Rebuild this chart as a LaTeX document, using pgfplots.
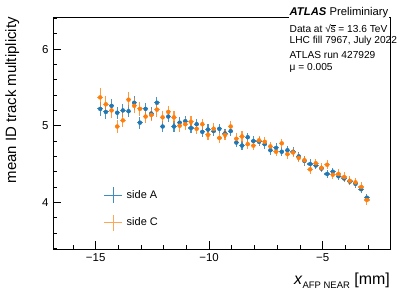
\documentclass[border=0pt]{standalone}
\usepackage{pgfplots}
\pgfplotsset{compat=1.18}
\usepackage{pgfplotstable}
\usepackage{fontspec}
\setmainfont{Liberation Sans}
\definecolor{cA}{RGB}{31,119,180}
\definecolor{cC}{RGB}{255,127,14}
\pgfplotstableread{
x ex a ea c ec
-14.80 0.12 5.22 0.09 5.37 0.12
-14.55 0.12 5.18 0.09 5.28 0.11
-14.30 0.12 5.26 0.09 5.20 0.10
-14.05 0.12 5.17 0.08 4.99 0.09
-13.80 0.12 5.20 0.09 5.07 0.09
-13.55 0.12 5.19 0.08 5.34 0.10
-13.30 0.12 5.30 0.09 5.26 0.10
-13.05 0.12 5.04 0.08 5.22 0.09
-12.80 0.12 5.22 0.08 5.12 0.09
-12.55 0.12 5.16 0.08 5.14 0.08
-12.30 0.12 5.30 0.08 5.21 0.09
-12.05 0.12 4.99 0.07 5.11 0.08
-11.80 0.12 5.12 0.07 5.18 0.08
-11.55 0.12 4.99 0.07 5.11 0.08
-11.30 0.12 5.04 0.07 5.00 0.08
-11.05 0.12 5.06 0.07 5.02 0.08
-10.80 0.12 4.97 0.07 5.05 0.08
-10.55 0.12 5.02 0.07 4.96 0.07
-10.30 0.12 4.92 0.07 5.02 0.07
-10.05 0.12 4.95 0.07 4.88 0.07
-9.80 0.12 4.93 0.06 4.96 0.07
-9.55 0.12 4.96 0.06 4.84 0.07
-9.30 0.12 4.90 0.06 4.88 0.07
-9.05 0.12 4.93 0.06 4.99 0.07
-8.80 0.12 4.78 0.06 4.83 0.07
-8.55 0.12 4.74 0.06 4.86 0.07
-8.30 0.12 4.85 0.06 4.76 0.06
-8.05 0.12 4.80 0.06 4.74 0.06
-7.80 0.12 4.79 0.06 4.81 0.06
-7.55 0.12 4.76 0.06 4.79 0.06
-7.30 0.12 4.68 0.06 4.73 0.06
-7.05 0.12 4.71 0.06 4.66 0.06
-6.80 0.12 4.66 0.06 4.77 0.06
-6.55 0.12 4.68 0.06 4.63 0.06
-6.30 0.12 4.66 0.06 4.65 0.06
-6.05 0.12 4.60 0.06 4.58 0.06
-5.80 0.12 4.54 0.06 4.55 0.06
-5.55 0.12 4.50 0.06 4.43 0.06
-5.30 0.12 4.48 0.05 4.51 0.06
-5.05 0.12 4.44 0.05 4.45 0.06
-4.80 0.12 4.37 0.05 4.49 0.06
-4.55 0.12 4.40 0.05 4.36 0.06
-4.30 0.12 4.34 0.05 4.37 0.06
-4.05 0.12 4.31 0.05 4.33 0.06
-3.80 0.12 4.27 0.05 4.28 0.06
-3.55 0.12 4.24 0.05 4.26 0.06
-3.30 0.12 4.17 0.05 4.20 0.06
-3.05 0.12 4.06 0.05 4.03 0.06
}\data
\begin{document}
\begin{tikzpicture}
\path[use as bounding box] (0,0) rectangle (407bp,294bp);
\begin{axis}[
  at={(53bp,45bp)}, anchor=south west,
  scale only axis, width=337bp, height=232bp,
  xmin=-16.88, xmax=-2.03, ymin=3.39, ymax=6.42,
  xtick={-15,-10,-5}, xticklabels={−15,−10,−5},
  ytick={4,5,6}, yticklabels={4,5,6},
  minor xtick={-16,-14,-13,-12,-11,-9,-8,-7,-6,-4,-3},
  minor ytick={3.4,3.6,3.8,4.2,4.4,4.6,4.8,5.2,5.4,5.6,5.8,6.2,6.4},
  xtick pos=lower, ytick pos=left,
  tick align=inside,
  major tick length=7.5bp, minor tick length=4bp,
  every tick/.style={black, line width=0.8bp},
  axis line style={black, line width=0.9bp},
  tick label style={font=\fontsize{11.5}{13}\selectfont},
  xticklabel style={yshift=-1bp},
  yticklabel style={xshift=-1bp},
  xlabel={\fontsize{16}{18}\selectfont\textit{x}\raisebox{-0.45ex}{\fontsize{9.5}{10}\selectfont AFP NEAR} [mm]},
  xlabel style={at={(rel axis cs:1,0)}, anchor=north east, yshift=-24bp, inner sep=0pt},
  legend style={at={(rel axis cs:0.15,0.27)}, anchor=north west, draw=none, fill=none,
    font=\fontsize{11}{13}\selectfont, row sep=10.5bp, inner sep=0pt,
    nodes={inner sep=1bp}},
  legend cell align=left,
]
\addplot[only marks, mark=none, cA, forget plot,
  error bars/.cd, x dir=both, x explicit, y dir=both, y explicit, error mark=none,
  error bar style={line width=1.1bp, opacity=0.8}]
  table[x=x, y=a, x error=ex, y error=ea] {\data};
\addplot[only marks, mark=none, cC, forget plot,
  error bars/.cd, x dir=both, x explicit, y dir=both, y explicit, error mark=none,
  error bar style={line width=1.1bp, opacity=0.8}]
  table[x=x, y=c, x error=ex, y error=ec] {\data};
\addlegendimage{legend image code/.code={\draw[draw=cA, line width=1bp, opacity=0.85] (0,0)--(18bp,0) (9bp,-8bp)--(9bp,8bp);}}
\addlegendentry{\hspace{3bp}side A}
\addlegendimage{legend image code/.code={\draw[draw=cC, line width=1bp, opacity=0.7] (0,0)--(18bp,0) (9bp,-8bp)--(9bp,8bp);}}
\addlegendentry{\hspace{3bp}side C}
\end{axis}
\node[rotate=90, anchor=north east, inner sep=0pt, font=\fontsize{15}{17}\selectfont] at (5bp,277bp) {mean ID track multiplicity};
\fill[white] (289bp,272bp) rectangle (389.3bp,280bp);
\node[anchor=west, inner sep=0pt, font=\fontsize{11.3}{13}\selectfont] at (289.5bp,281bp) {\textbf{\textit{ATLAS}} Preliminiary};
\node[anchor=west, inner sep=0pt, font=\fontsize{10.2}{12}\selectfont] at (289.5bp,265.5bp) {Data at √\kern-0.3pt$\overline{\mbox{s}}$ = 13.6 TeV};
\node[anchor=west, inner sep=0pt, font=\fontsize{10.2}{12}\selectfont] at (289.5bp,253bp) {LHC fill 7967, July 2022};
\node[anchor=west, inner sep=0pt, font=\fontsize{10.2}{12}\selectfont] at (289.5bp,239bp) {ATLAS run 427929};
\node[anchor=west, inner sep=0pt, font=\fontsize{10.2}{12}\selectfont] at (289.5bp,226.5bp) {μ = 0.005};
\end{tikzpicture}
\end{document}
